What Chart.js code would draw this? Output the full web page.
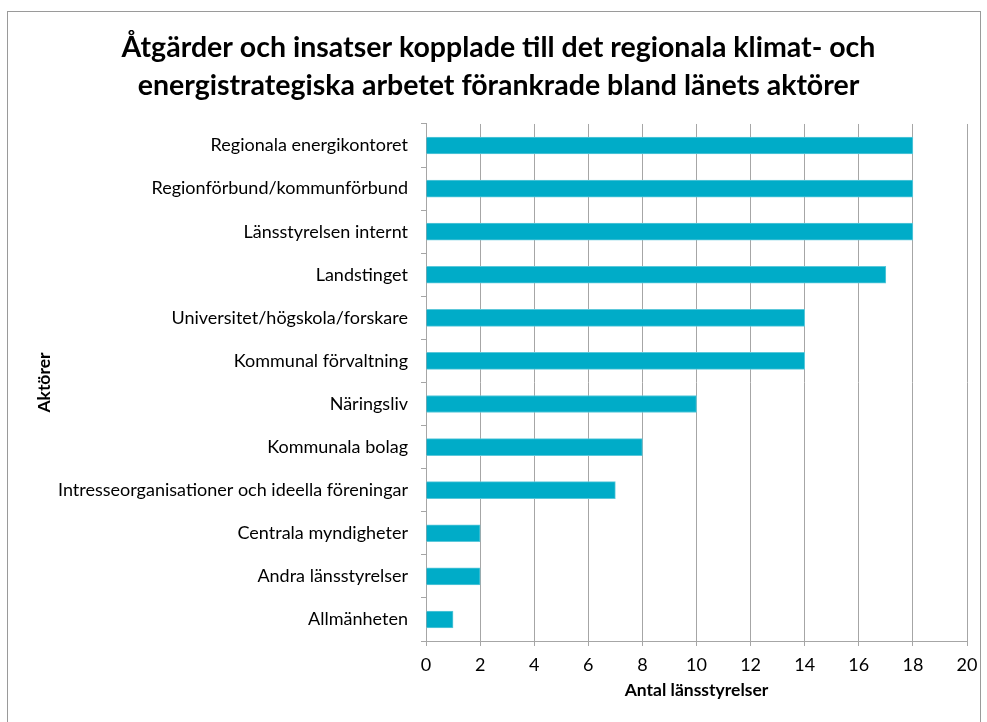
<!DOCTYPE html>
<html>
<head>
<meta charset="utf-8">
<script src="https://cdn.jsdelivr.net/npm/chart.js@4.4.1/dist/chart.umd.min.js"></script>
<style>
  html, body { margin: 0; padding: 0; background: #fff; }
  #frame { position: absolute; left: 7px; top: 11px; width: 974px; height: 730px; border: 1px solid #9a9a9a; box-sizing: border-box; }
  #wrap { position: absolute; left: 0; top: 0; width: 987px; height: 722px; }
</style>
</head>
<body>
<div id="frame"></div>
<div id="wrap"><canvas id="chart" width="987" height="722"></canvas></div>
<script>
// Aktörer (categories) and counts
const actors = [
    'Regionala energikontoret',
    'Regionförbund/kommunförbund',
    'Länsstyrelsen internt',
    'Landstinget',
    'Universitet/högskola/forskare',
    'Kommunal förvaltning',
    'Näringsliv',
    'Kommunala bolag',
    'Intresseorganisationer och ideella föreningar',
    'Centrala myndigheter',
    'Andra länsstyrelser',
    'Allmänheten'
];
const counts = [18, 18, 18, 17, 14, 14, 10, 8, 7, 2, 2, 1];

const titleLines = [
    'Åtgärder och insatser kopplade till det regionala klimat- och',
    'energistrategiska arbetet förankrade bland länets aktörer'
];
const xTitle = 'Antal länsstyrelser';
const yTitle = 'Aktörer';

const gridColor = '#a6a6a6';
const font = 'Lato';

const ctx = document.getElementById('chart').getContext('2d');
new Chart(ctx, {
    type: 'bar',
    data: {
        labels: actors,
        datasets: [{
            data: counts,
            backgroundColor: '#00acc8',
            borderColor: '#5cc8da',
            borderWidth: 1,
            barThickness: 17
        }]
    },
    options: {
        indexAxis: 'y',
        responsive: false,
        animation: false,
        layout: { padding: { left: 30, right: 20, top: 0, bottom: 21 } },
        scales: {
            x: {
                min: 0,
                max: 20,
                ticks: { stepSize: 2, color: '#000', font: { family: font, size: 18 }, padding: 8 },
                grid: { color: gridColor, tickLength: 5 },
                border: { color: gridColor },
                title: { display: true, text: xTitle, color: '#000', font: { family: font, size: 17.5, weight: 'bold' }, padding: 0 },
                afterFit: (scale) => { scale.height = 722 - 21 - 641; }
            },
            y: {
                ticks: { color: '#000', font: { family: font, size: 18 }, padding: 13 },
                grid: { drawOnChartArea: false, color: gridColor, tickLength: 5 },
                border: { color: gridColor },
                title: { display: true, text: yTitle, color: '#000', font: { family: font, size: 17.5, weight: 'bold' }, padding: 4 },
                afterFit: (scale) => { scale.width = 426 - 30; }
            }
        },
        plugins: {
            legend: { display: false },
            tooltip: { enabled: false },
            title: {
                display: true,
                text: titleLines,
                color: '#000',
                font: { family: font, size: 28.5, weight: 'bold', lineHeight: 1.333 },
                padding: { top: 29, bottom: 19 }
            }
        }
    }
});
</script>
</body>
</html>
